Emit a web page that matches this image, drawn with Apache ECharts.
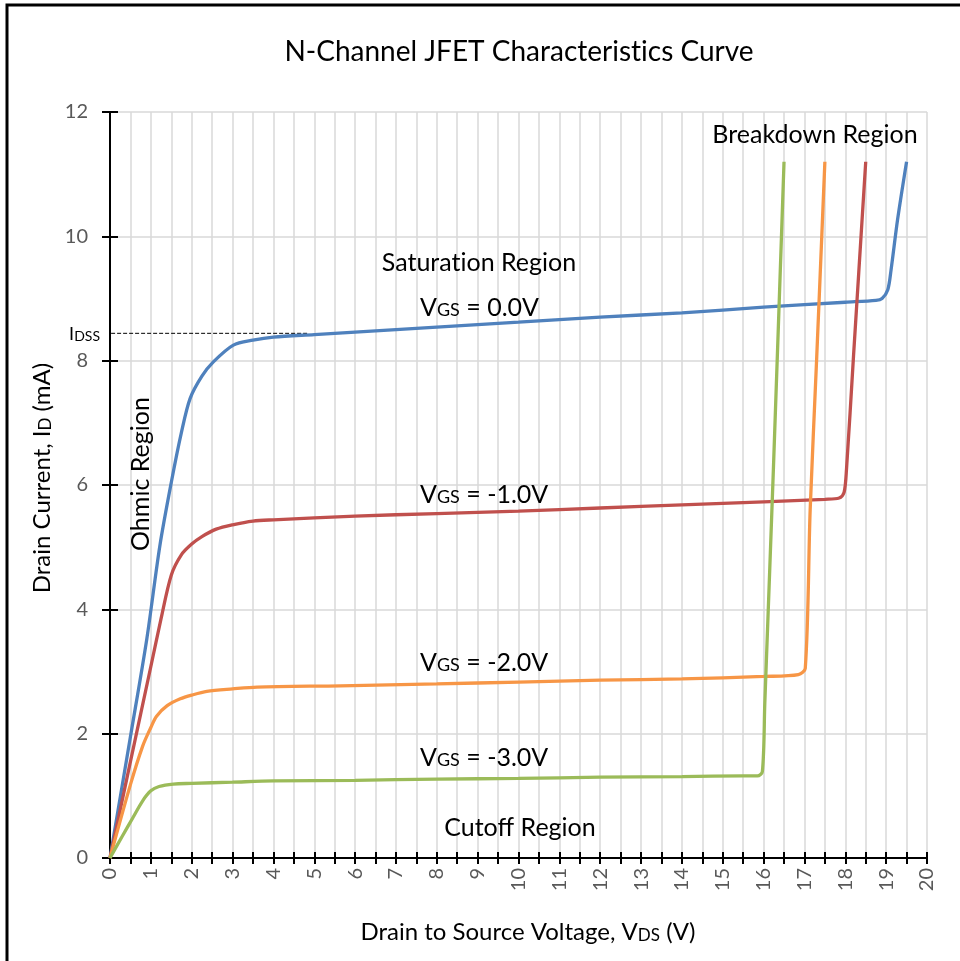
<!DOCTYPE html>
<html><head><meta charset="utf-8">
<script src="https://cdn.jsdelivr.net/npm/echarts@6/dist/echarts.min.js"></script>
<style>html,body{margin:0;padding:0;background:#fff}#c{width:960px;height:961px}</style>
</head><body><div id="c"></div><script>
// ---- data (VDS in V, ID in mA) ----
const vgs0 = [[0,0],[0.5,1.95],[0.9,3.52],[1.22,5.02],[1.5,6.04],[1.75,6.85],[1.96,7.39],[2.25,7.75],[2.53,7.98],[3.02,8.25],[3.5,8.33],[4,8.38],[5,8.42],[6,8.46],[8,8.54],[10,8.62],[12,8.7],[14,8.77],[16,8.86],[18,8.94],[18.75,8.97],[18.9,9.0],[19.04,9.14],[19.12,9.46],[19.28,10.27],[19.5,11.2]];
const vgs1 = [[0,0],[0.5,1.55],[1,3.08],[1.25,3.85],[1.5,4.55],[1.75,4.88],[2,5.05],[2.25,5.17],[2.6,5.29],[3,5.36],[3.5,5.42],[4,5.44],[6,5.5],[8,5.54],[10,5.58],[12,5.63],[14,5.68],[16,5.73],[17.5,5.77],[17.85,5.79],[17.97,5.88],[18.03,6.26],[18.2,8.06],[18.5,11.2]];
const vgs2 = [[0,0],[0.5,1.18],[0.8,1.8],[1,2.1],[1.14,2.28],[1.4,2.45],[1.72,2.56],[2,2.62],[2.37,2.68],[3,2.72],[3.6,2.75],[5.64,2.77],[8,2.8],[10,2.83],[12,2.86],[14,2.88],[16,2.92],[16.85,2.95],[17.02,3.05],[17.14,5.6],[17.3,8.05],[17.5,11.2]];
const vgs3 = [[0,0],[0.3,0.35],[0.57,0.66],[0.8,0.92],[1,1.08],[1.2,1.15],[1.55,1.19],[2,1.2],[3,1.22],[4,1.24],[6,1.25],[8,1.27],[10,1.28],[12,1.3],[14,1.31],[15.5,1.32],[15.85,1.32],[15.97,1.39],[16.03,2.5],[16.24,6.26],[16.5,11.2]];
const idssLine = [[-0.12,8.44],[4.85,8.44]];
const seriesNames = ['VGS = 0.0V','VGS = -1.0V','VGS = -2.0V','VGS = -3.0V'];
const xMin = 0, xMax = 20, xStep = 0.5;
const yMin = 0, yMax = 12, yStep = 2;

const colors = ['#4F81BD','#C0504D','#F79646','#9BBB59'];
const FONT = 'Lato, "Open Sans", sans-serif';
const ZW = '\u200C';
const chart = echarts.init(document.getElementById('c'), null, {renderer:'canvas'});

function vgsLabel(x, y, value) {
  return {type:'text', x:x, y:y, z:100, silent:true, style:{
    text:'{v|V}{s|GS}{v| = ' + value + '}', align:'left', verticalAlign:'middle',
    rich:{ v:{fontFamily:FONT, fontSize:25, fill:'#000', verticalAlign:'bottom'},
           s:{fontFamily:FONT, fontSize:18, fill:'#000', verticalAlign:'bottom', padding:[0,0,1,0]} } }};
}
function plain(x, y, text, size, rot, align) {
  return {type:'text', x:x, y:y, z:100, rotation:rot||0, silent:true, style:{
    text:text, fontFamily:FONT, fontSize:size, fill:'#000', align:align||'center', verticalAlign:'middle'}};
}

const series = [vgs0, vgs1, vgs2, vgs3].map((d, i) => ({
  name: seriesNames[i], type:'line', data:d, xAxisIndex:0, yAxisIndex:0,
  showSymbol:false, symbol:'none', smooth:0.3,
  lineStyle:{color:colors[i], width:3.3}, itemStyle:{color:colors[i]}, z:3
}));
series.push({name:'IDSS', type:'line', data:idssLine, symbol:'none', clip:false, silent:true,
  lineStyle:{color:'#000', width:1, type:[4,2]}, z:2});

const option = {
  animation:false,
  backgroundColor:'#fff',
  grid:{left:110, right:33, top:112, bottom:103},
  xAxis:[
    {type:'value', min:xMin, max:xMax, interval:xStep,
     axisLine:{show:true, onZero:true, lineStyle:{color:'#000', width:2}},
     axisTick:{show:true, length:6, lineStyle:{color:'#000', width:2}},
     axisLabel:{rotate:90, margin:10, fontFamily:FONT, fontSize:20, color:'#595959',
       formatter:v => (Math.abs(v - Math.round(v)) < 1e-9 ? String(Math.round(v)) : '')},
     splitLine:{show:true, lineStyle:{color:'#d9d9d9', width:1.5}}},
    {type:'value', min:xMin, max:xMax, interval:xStep, position:'top',
     axisLine:{show:false, onZero:true, onZeroAxisIndex:0},
     axisTick:{show:true, length:6, lineStyle:{color:'#000', width:2}},
     axisLabel:{show:false}, splitLine:{show:false}}
  ],
  yAxis:[
    {type:'value', min:yMin, max:yMax, interval:yStep,
     axisLine:{show:true, onZero:true, lineStyle:{color:'#000', width:2}},
     axisTick:{show:true, length:8, lineStyle:{color:'#000', width:2}},
     axisLabel:{margin:22, fontFamily:FONT, fontSize:20, color:'#595959'},
     splitLine:{show:true, lineStyle:{color:'#d9d9d9', width:1.5}}},
    {type:'value', min:yMin, max:yMax, interval:yStep, position:'right',
     axisLine:{show:false, onZero:true, onZeroAxisIndex:0},
     axisTick:{show:true, length:8, lineStyle:{color:'#000', width:2}},
     axisLabel:{show:false}, splitLine:{show:false}}
  ],
  series: series,
  graphic:[
    {type:'rect', silent:true, z:100, shape:{x:7, y:5, width:1000, height:1000},
     style:{fill:'none', stroke:'#000', lineWidth:3}},
    plain(519, 52, 'N-Channel JFET Characterist' + ZW + 'ics Curve', 28),
    plain(479, 263, 'Saturat' + ZW + 'ion Region', 25),
    plain(815, 135, 'Breakdown Region', 25),
    plain(520, 828, 'Cutoff Region', 25),
    plain(141, 474, 'Ohmic Region', 25, Math.PI/2),
    vgsLabel(420, 308, '0.0V'),
    vgsLabel(420, 495, '-1.0V'),
    vgsLabel(420, 663, '-2.0V'),
    vgsLabel(420, 758, '-3.0V'),
    {type:'text', x:100, y:334, z:100, silent:true, style:{
      text:'{a|I}{b|DSS}', align:'right', verticalAlign:'middle',
      rich:{a:{fontFamily:FONT, fontSize:18, fill:'#000', verticalAlign:'bottom'},
            b:{fontFamily:FONT, fontSize:14, fill:'#000', verticalAlign:'bottom'}}}},
    {type:'text', x:42, y:478, z:100, rotation:Math.PI/2, silent:true, style:{
      text:'{a|Drain Current, I}{b|D}{a| (mA)}', align:'center', verticalAlign:'middle',
      rich:{a:{fontFamily:FONT, fontSize:24, fill:'#000', verticalAlign:'bottom'},
            b:{fontFamily:FONT, fontSize:17, fill:'#000', verticalAlign:'bottom'}}}},
    {type:'text', x:528, y:932, z:100, silent:true, style:{
      text:'{a|Drain to Source Voltage, V}{b|DS}{a| (V)}', align:'center', verticalAlign:'middle',
      rich:{a:{fontFamily:FONT, fontSize:24, fill:'#000', verticalAlign:'bottom'},
            b:{fontFamily:FONT, fontSize:17, fill:'#000', verticalAlign:'bottom'}}}}
  ]
};
chart.setOption(option);
</script></body></html>
